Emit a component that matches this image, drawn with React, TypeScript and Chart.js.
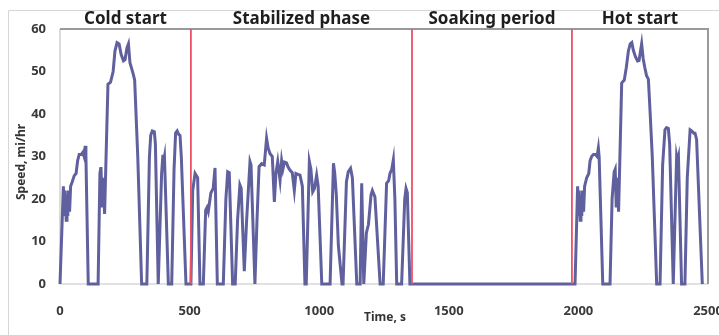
import React, { useEffect, useRef } from "react";
import { Chart, registerables } from "chart.js";

Chart.register(...registerables);

// ---- data ----
const coldTime = [0, 13, 17, 20, 24, 27, 30, 33, 37, 41, 47, 55, 62, 68, 74, 82, 88, 93, 97, 100, 109, 147, 154, 158, 163, 167, 172, 185, 195, 205, 212, 220, 228, 236, 245, 251, 258, 264, 270, 274, 282, 288, 300, 315, 335, 345, 350, 356, 364, 368, 379, 385, 392, 397, 400, 403, 408, 418, 431, 440, 446, 452, 458, 463, 468, 486, 505];
const coldSpeed = [0, 23, 16, 22, 15, 21, 16, 22, 17, 23, 24, 25.5, 26, 29, 30.5, 30.5, 31, 30, 32.5, 30, 0, 0, 26, 27.5, 18, 25, 16.5, 47, 47.5, 50, 54.8, 56.8, 56.5, 54, 52.5, 52.8, 55.5, 56.5, 52, 51.2, 49.5, 48, 30, 0, 0, 30, 35, 36, 35.8, 33, 0, 12, 26, 30.4, 29, 30, 20, 0, 0, 27, 35.5, 36, 35.2, 35, 30, 0, 0];

const stabTime = [512, 521, 526, 531, 540, 553, 562, 567, 572, 582, 591, 598, 607, 630, 640, 647, 653, 666, 676, 685, 694, 699, 711, 720, 733, 737, 752, 760, 768, 778, 788, 797, 803, 810, 819, 827, 833, 840, 849, 855, 860, 866, 874, 880, 887, 896, 904, 910, 918, 926, 935, 945, 950, 962, 968, 975, 982, 990, 996, 1010, 1042, 1055, 1060, 1066, 1074, 1088, 1092, 1105, 1112, 1121, 1128, 1145, 1158, 1164, 1172, 1182, 1190, 1200, 1205, 1215, 1235, 1247, 1260, 1268, 1273, 1280, 1286, 1292, 1299, 1318, 1330, 1335, 1340, 1350];
const stabSpeed = [22, 26, 25.5, 25, 0, 0, 17.4, 18, 17, 21.4, 22.5, 27.3, 0, 0, 20, 26.4, 26.2, 0, 0, 15, 23.3, 22.5, 3, 15, 28.8, 28, 0, 15, 27.6, 28.3, 28, 34.3, 32, 30.7, 30, 19.3, 26, 28.8, 24.4, 29, 27, 28.7, 28.5, 27.5, 26.8, 26.2, 22, 26, 25.8, 25.6, 23, 0, 0, 28.8, 27, 21.7, 22.5, 25.6, 23, 0, 0, 28.4, 26, 21, 9, 0, 0, 24, 26.4, 27.2, 25, 0, 0, 23.7, 0, 12, 14, 21, 22, 20.5, 0, 0, 23.7, 24.3, 26, 27, 29.2, 20, 0, 0, 20, 22.5, 21.5, 0];

const soakTime = [1358, 1975];
const soakSpeed = [0, 0];

const hotTime = [1987, 1997, 2000, 2003, 2007, 2010, 2013, 2016, 2020, 2024, 2032, 2040, 2045, 2051, 2058, 2065, 2072, 2077, 2080, 2094, 2122, 2130, 2138, 2142, 2146, 2150, 2155, 2167, 2177, 2185, 2193, 2200, 2206, 2212, 2220, 2228, 2234, 2244, 2250, 2256, 2263, 2270, 2277, 2285, 2302, 2315, 2325, 2334, 2340, 2347, 2352, 2366, 2372, 2379, 2382, 2386, 2390, 2398, 2411, 2420, 2431, 2438, 2445, 2450, 2456, 2478];
const hotSpeed = [0, 23, 16, 22, 15, 21, 16, 22, 17, 23, 25, 26, 29, 30, 30.5, 30.5, 30, 32, 30, 0, 0, 20, 26.4, 27, 18, 25, 17, 47.3, 48, 51, 54.9, 56.5, 56.8, 55, 53.5, 52.5, 52.6, 56.5, 53, 51, 49, 48.2, 40, 30, 0, 0, 28, 36.3, 36.8, 36.6, 33, 0, 14, 30, 29, 30, 20, 0, 0, 25, 36.3, 36, 35.5, 35.5, 34, 0];

const phaseBoundaries = [505, 1358, 1975];
const phaseStarts = [0, 505, 1358, 1975];
const phaseEnds = [505, 1358, 1975, 2500];
const phaseLabels = ["Cold start", "Stabilized phase", "Soaking period", "Hot start"];

const xTicks = [0, 500, 1000, 1500, 2000, 2500];
const yTicks = [0, 10, 20, 30, 40, 50, 60];
const xTitle = "Time, s";
const yTitle = "Speed, mi/hr";

const FONT = "'Noto Sans', 'DejaVu Sans', sans-serif";

function toPoints(t: number[], v: number[]) {
  return t.map((x, i) => ({ x, y: v[i] }));
}

export default function App() {
  const ref = useRef<HTMLCanvasElement | null>(null);

  useEffect(() => {
    if (!ref.current) return;
    const speedPoints = [
      ...toPoints(coldTime, coldSpeed),
      ...toPoints(stabTime, stabSpeed),
      ...toPoints(soakTime, soakSpeed),
      ...toPoints(hotTime, hotSpeed),
    ];
    const redSets = phaseBoundaries.map((b) => ({
      type: "line" as const,
      data: [
        { x: b, y: 0 },
        { x: b, y: 60 },
      ],
      borderColor: "rgb(238, 80, 100)",
      borderWidth: 1.8,
      pointRadius: 0,
      tension: 0,
      clip: 2,
      order: 0,
    }));

    const framePlugin = {
      id: "frame",
      beforeDatasetsDraw(chart: any) {
        const { ctx, chartArea: a } = chart;
        ctx.save();
        ctx.strokeStyle = "#d6d6d6";
        ctx.lineWidth = 1;
        ctx.beginPath();
        ctx.moveTo(8.5, 335);
        ctx.lineTo(8.5, 10.5);
        ctx.lineTo(719, 10.5);
        ctx.stroke();
        ctx.strokeStyle = "#c4c4c4";
        ctx.lineWidth = 1.2;
        ctx.beginPath();
        ctx.moveTo(a.left, a.top);
        ctx.lineTo(a.left, a.bottom);
        ctx.lineTo(a.right, a.bottom);
        ctx.stroke();
        ctx.strokeStyle = "#9a9a9a";
        ctx.lineWidth = 2;
        ctx.beginPath();
        ctx.moveTo(a.left, a.top);
        ctx.lineTo(a.right, a.top);
        ctx.lineTo(a.right, a.bottom);
        ctx.stroke();
        ctx.restore();
      },
      afterDraw(chart: any) {
        const { ctx, chartArea: a, scales } = chart;
        const xs = scales.x;
        ctx.save();
        ctx.fillStyle = "#1e1e1e";
        ctx.font = `bold 17px ${FONT}`;
        ctx.textAlign = "center";
        ctx.textBaseline = "middle";
        phaseLabels.forEach((lab, i) => {
          const cx = (xs.getPixelForValue(phaseStarts[i]) + xs.getPixelForValue(phaseEnds[i])) / 2;
          ctx.fillText(lab, cx, 19.5);
        });
        ctx.fillStyle = "#333";
        ctx.font = `bold 12px ${FONT}`;
        ctx.fillText(xTitle, (a.left + a.right) / 2 + 1, 318);
        ctx.translate(22, 162);
        ctx.rotate(-Math.PI / 2);
        ctx.fillText(yTitle, 0, 0);
        ctx.restore();
      },
    };

    const chart = new Chart(ref.current, {
      type: "line",
      data: {
        datasets: [
          ...redSets,
          {
            type: "line" as const,
            data: speedPoints,
            borderColor: "rgb(96, 96, 158)",
            borderWidth: 3,
            pointRadius: 0,
            tension: 0,
            clip: 4,
            order: 1,
          },
        ],
      },
      options: {
        animation: false,
        responsive: false,
        events: [],
        layout: { padding: { left: 8, top: 29, right: 11, bottom: 0 } },
        plugins: { legend: { display: false }, tooltip: { enabled: false } },
        scales: {
          x: {
            type: "linear",
            min: 0,
            max: 2500,
            afterBuildTicks: (s: any) => {
              s.ticks = xTicks.map((v) => ({ value: v }));
            },
            afterFit: (s: any) => {
              s.height = 51;
              s.paddingLeft = 0;
              s.paddingRight = 0;
            },
            grid: { display: false, drawTicks: false },
            border: { display: false },
            ticks: {
              padding: 19,
              maxRotation: 0,
              autoSkip: false,
              color: "#3a3a3a",
              font: { family: FONT, size: 13, weight: "bold" },
              callback: (v: any) => String(v),
            },
          },
          y: {
            type: "linear",
            min: 0,
            max: 60,
            afterBuildTicks: (s: any) => {
              s.ticks = yTicks.map((v) => ({ value: v }));
            },
            afterFit: (s: any) => {
              s.width = 52;
              s.paddingTop = 0;
              s.paddingBottom = 0;
            },
            grid: { display: false, drawTicks: false },
            border: { display: false },
            ticks: {
              padding: 14,
              color: "#3a3a3a",
              font: { family: FONT, size: 13, weight: "bold" },
              callback: (v: any) => String(v),
            },
          },
        },
      } as any,
      plugins: [framePlugin],
    });
    return () => chart.destroy();
  }, []);

  return (
    <div style={{ position: "fixed", left: 0, top: 0, width: 719, height: 335, background: "#fff" }}>
      <canvas ref={ref} width={719} height={335} style={{ display: "block" }} />
    </div>
  );
}
